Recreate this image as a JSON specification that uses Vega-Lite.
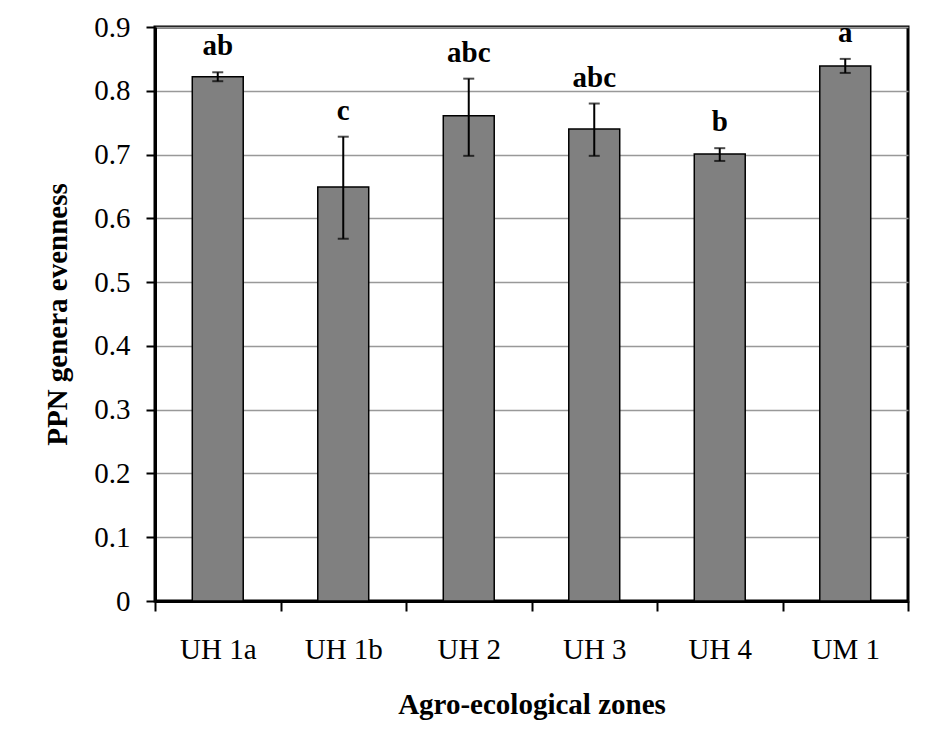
{
  "$schema": "https://vega.github.io/schema/vega-lite/v6.json",
  "width": 753,
  "height": 574,
  "autosize": {"type": "none"},
  "padding": {"left": 155, "top": 27, "right": 31, "bottom": 137},
  "background": "white",
  "config": {
    "font": "Liberation Serif",
    "view": {"stroke": "black", "strokeWidth": 3},
    "axisY": {
      "domainColor": "black",
      "domainWidth": 3,
      "tickColor": "black",
      "tickWidth": 2,
      "tickSize": 9,
      "labelFontSize": 29,
      "labelColor": "black",
      "labelPadding": 16,
      "grid": true,
      "gridColor": "#999999",
      "gridWidth": 1.5,
      "titleFontSize": 29,
      "titleFontWeight": "bold",
      "titleColor": "black",
      "titlePadding": 21
    }
  },
  "data": {
    "values": [
      {"zone": "UH 1a", "mean": 0.822, "lo": 0.815, "hi": 0.829, "group": "ab"},
      {"zone": "UH 1b", "mean": 0.649, "lo": 0.568, "hi": 0.728, "group": "c"},
      {"zone": "UH 2", "mean": 0.761, "lo": 0.698, "hi": 0.819, "group": "abc"},
      {"zone": "UH 3", "mean": 0.740, "lo": 0.698, "hi": 0.780, "group": "abc"},
      {"zone": "UH 4", "mean": 0.701, "lo": 0.690, "hi": 0.710, "group": "b"},
      {"zone": "UM 1", "mean": 0.839, "lo": 0.828, "hi": 0.850, "group": "a"}
    ]
  },
  "encoding": {
    "x": {
      "field": "zone",
      "type": "nominal",
      "sort": null,
      "scale": {"paddingInner": 0, "paddingOuter": 0},
      "axis": {
        "title": "Agro-ecological zones",
        "tickBand": "extent",
        "domainColor": "black",
        "domainWidth": 3,
        "tickColor": "black",
        "tickWidth": 2,
        "tickSize": 10,
        "labelFontSize": 29,
        "labelColor": "black",
        "labelBaseline": "alphabetic",
        "labelPadding": 47,
        "labelAngle": 0,
        "grid": false,
        "titleFontSize": 29,
        "titleFontWeight": "bold",
        "titleColor": "black",
        "titlePadding": 26
      }
    }
  },
  "layer": [
    {
      "mark": {"type": "bar", "fill": "#808080", "stroke": "black", "strokeWidth": 1.5, "width": {"band": 0.406}},
      "encoding": {
        "y": {
          "field": "mean",
          "type": "quantitative",
          "title": "PPN genera evenness",
          "scale": {"domain": [0, 0.9]},
          "axis": {"values": [0, 0.1, 0.2, 0.3, 0.4, 0.5, 0.6, 0.7, 0.8, 0.9], "format": ".1~f"}
        }
      }
    },
    {
      "mark": {"type": "rule", "color": "black", "strokeWidth": 2},
      "encoding": {
        "y": {"field": "lo", "type": "quantitative", "title": "PPN genera evenness",
          "axis": {"values": [0, 0.1, 0.2, 0.3, 0.4, 0.5, 0.6, 0.7, 0.8, 0.9], "format": ".1~f"}},
        "y2": {"field": "hi"}
      }
    },
    {
      "mark": {"type": "tick", "color": "black", "thickness": 2, "size": 11},
      "encoding": {"y": {"field": "lo", "type": "quantitative", "title": "PPN genera evenness",
          "axis": {"values": [0, 0.1, 0.2, 0.3, 0.4, 0.5, 0.6, 0.7, 0.8, 0.9], "format": ".1~f"}}}
    },
    {
      "mark": {"type": "tick", "color": "black", "thickness": 2, "size": 11},
      "encoding": {"y": {"field": "hi", "type": "quantitative", "title": "PPN genera evenness",
          "axis": {"values": [0, 0.1, 0.2, 0.3, 0.4, 0.5, 0.6, 0.7, 0.8, 0.9], "format": ".1~f"}}}
    },
    {
      "mark": {"type": "text", "fontWeight": "bold", "fontSize": 29, "baseline": "alphabetic", "dy": -17, "color": "black"},
      "encoding": {
        "y": {"field": "hi", "type": "quantitative", "title": "PPN genera evenness",
          "axis": {"values": [0, 0.1, 0.2, 0.3, 0.4, 0.5, 0.6, 0.7, 0.8, 0.9], "format": ".1~f"}},
        "text": {"field": "group"}
      }
    }
  ]
}
